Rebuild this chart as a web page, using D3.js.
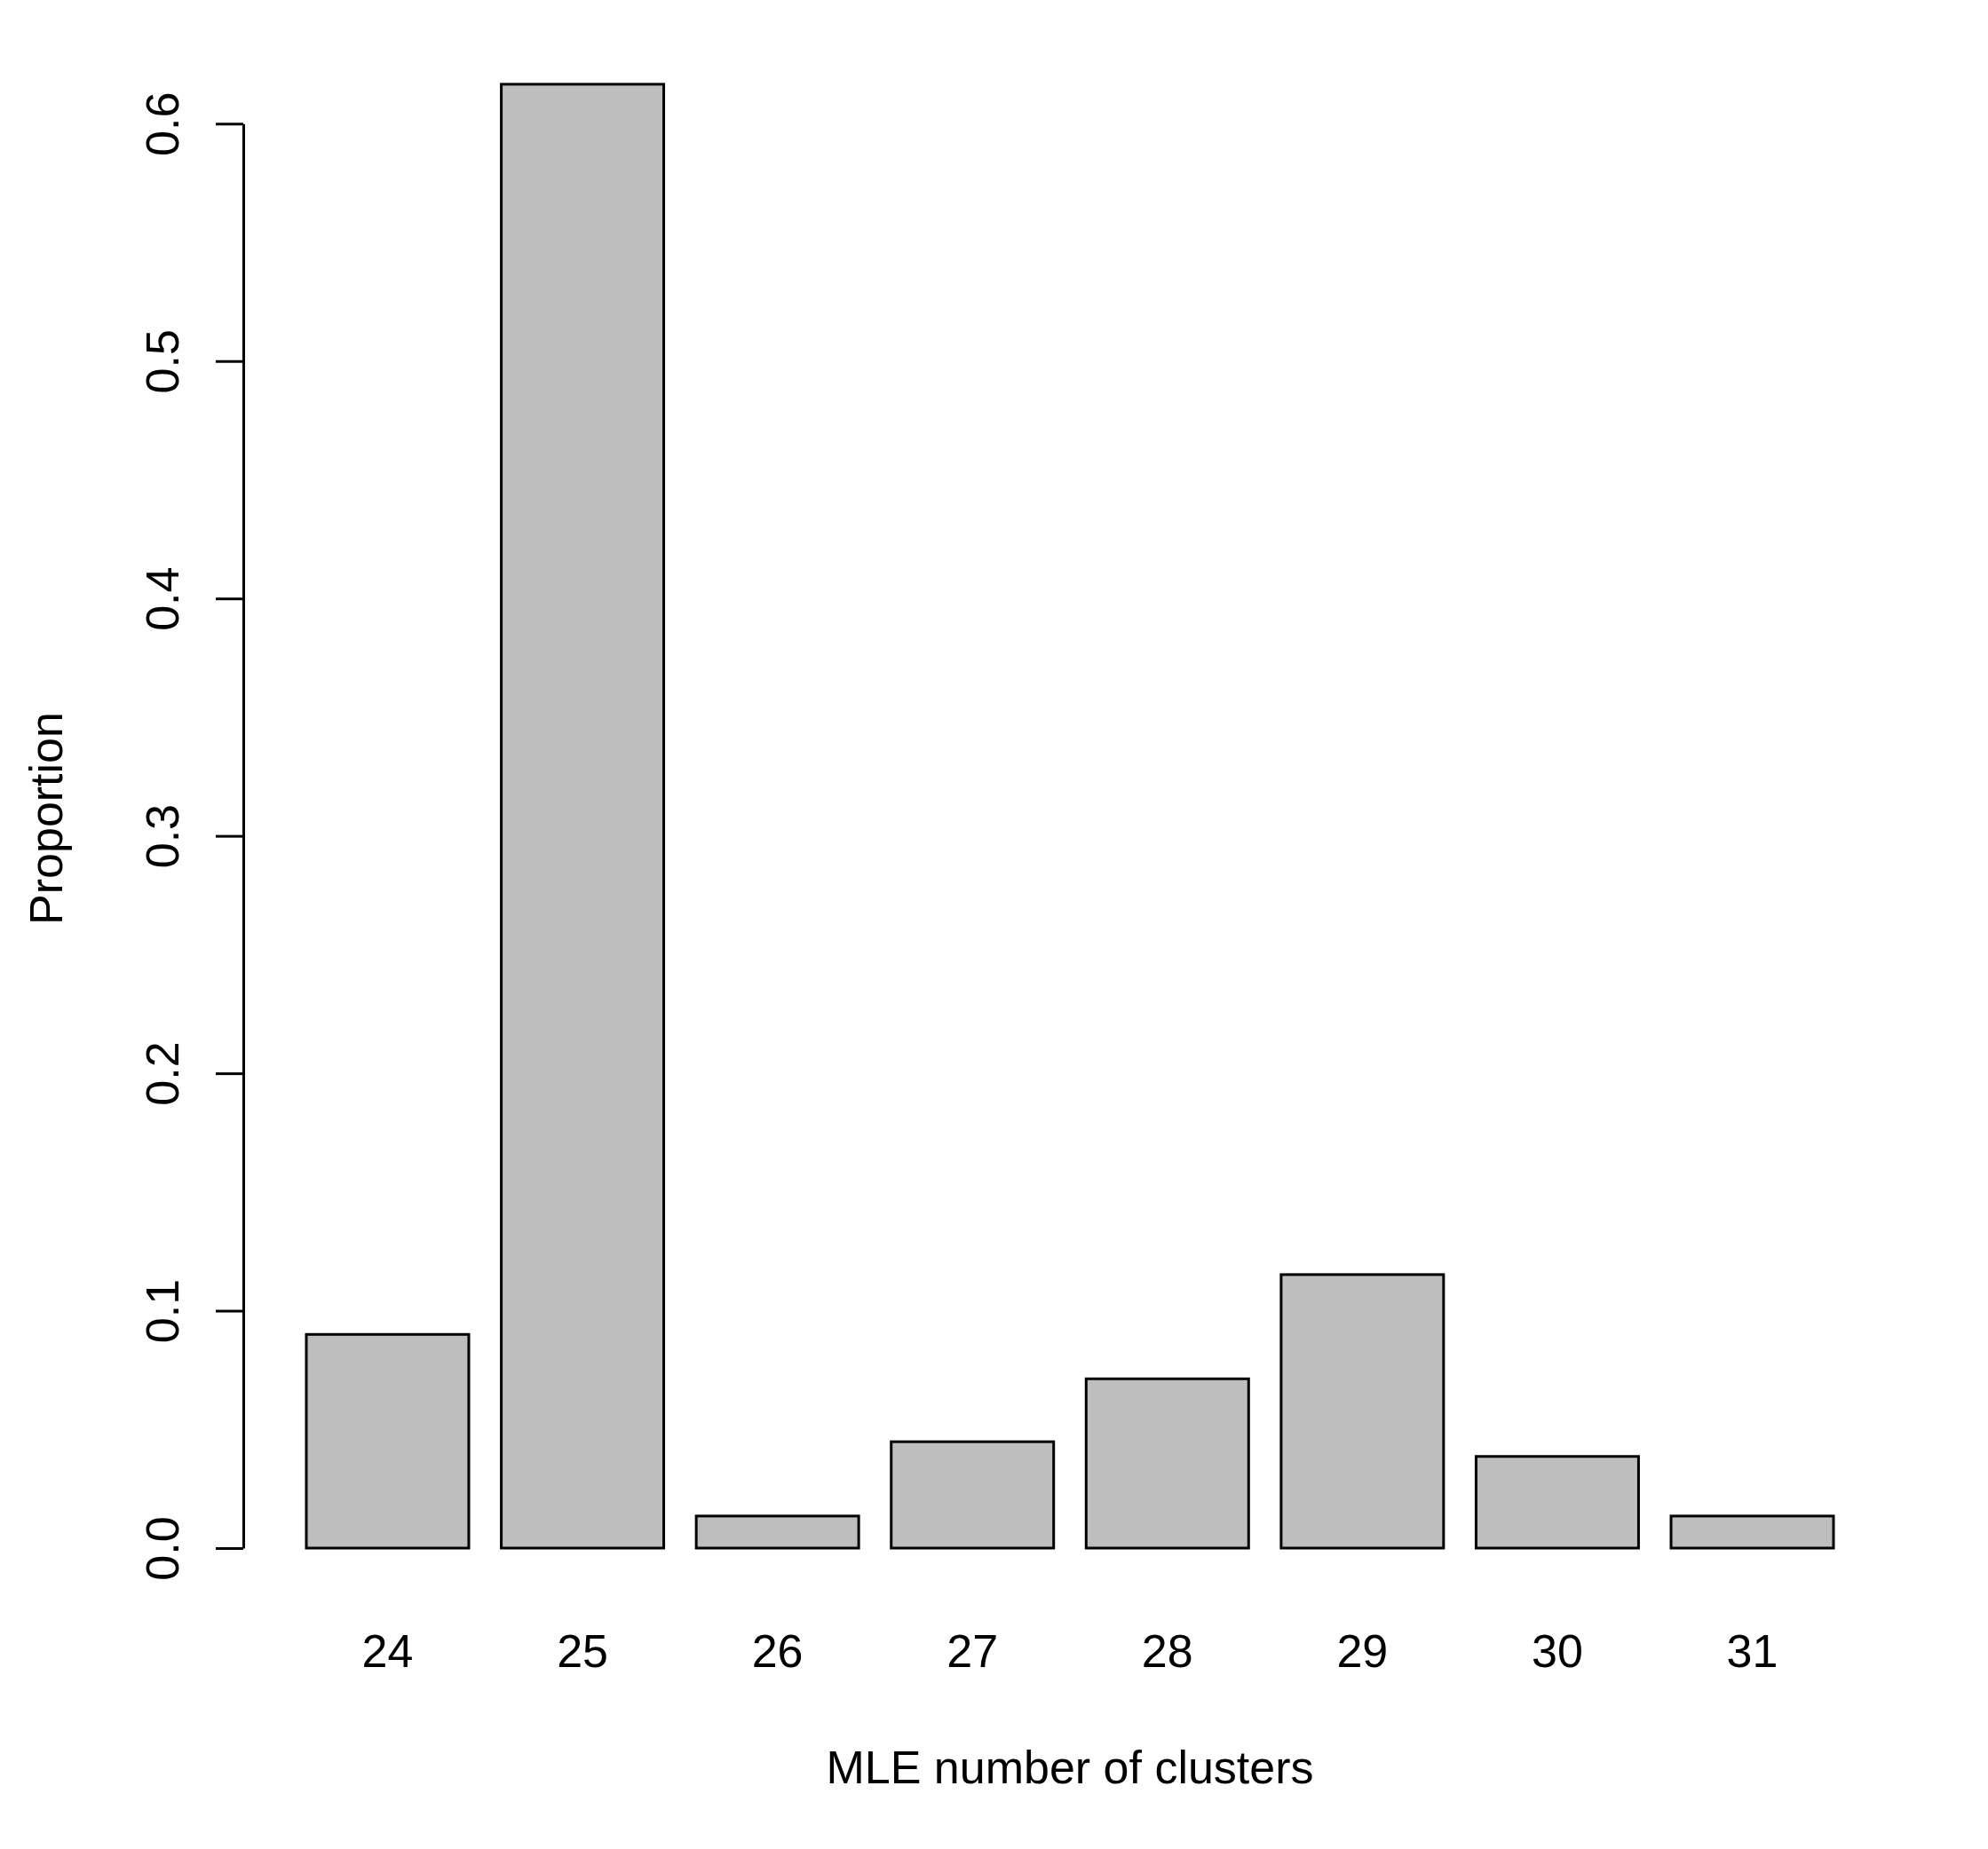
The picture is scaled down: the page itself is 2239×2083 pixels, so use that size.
<!DOCTYPE html>
<html>
<head>
<meta charset="utf-8">
<script src="https://cdn.jsdelivr.net/npm/d3@7"></script>
<style>
  body { margin: 0; background: #fff; }
  text { font-family: "Liberation Sans", Arial, sans-serif; }
</style>
</head>
<body>
<div id="chart"></div>
<script>
// datos
const clusters = ["24", "25", "26", "27", "28", "29", "30", "31"];
const proportions = [0.09, 0.6166, 0.0135, 0.0448, 0.0713, 0.1152, 0.0386, 0.0135];
const yTicks = [0, 0.1, 0.2, 0.3, 0.4, 0.5, 0.6];

const width = 2239, height = 2083;
const margin = { top: 139.3, right: 174, bottom: 339, left: 345 };

const svg = d3.select("#chart").append("svg")
  .attr("width", width)
  .attr("height", height);

svg.append("rect")
  .attr("width", width)
  .attr("height", height)
  .attr("fill", "#fff");

// escalas
const x = d3.scaleBand()
  .domain(clusters)
  .range([margin.left, width - margin.right])
  .paddingInner(1 / 6)
  .paddingOuter(0);

const y = d3.scaleLinear()
  .domain([0, 0.6])
  .range([height - margin.bottom, margin.top]);

// barras
svg.append("g")
  .selectAll("rect")
  .data(clusters.map((c, i) => ({ c, v: proportions[i] })))
  .join("rect")
  .attr("x", d => x(d.c))
  .attr("y", d => y(d.v))
  .attr("width", x.bandwidth())
  .attr("height", d => y(0) - y(d.v))
  .attr("fill", "#bebebe")
  .attr("stroke", "#000")
  .attr("stroke-width", 3);

// eje Y
const yAxis = svg.append("g")
  .attr("transform", "translate(274,0)")
  .call(d3.axisLeft(y).tickValues(yTicks).tickFormat(d3.format(".1f"))
    .tickSize(31).tickSizeOuter(0).tickPadding(0));

yAxis.select(".domain").attr("stroke", "#000").attr("stroke-width", 3);
yAxis.selectAll(".tick line").attr("stroke", "#000").attr("stroke-width", 3);
yAxis.selectAll(".tick text")
  .attr("x", null)
  .attr("dy", null)
  .attr("transform", "translate(-73,0) rotate(-90)")
  .attr("text-anchor", "middle")
  .attr("fill", "#000")
  .style("font-size", "52px")
  .style("font-family", "Liberation Sans, Arial, sans-serif");

// etiquetas X (sin eje, como barplot de R)
svg.append("g")
  .selectAll("text")
  .data(clusters)
  .join("text")
  .attr("x", d => x(d) + x.bandwidth() / 2)
  .attr("y", 1878)
  .attr("text-anchor", "middle")
  .style("font-size", "52px")
  .text(d => d);

// títulos de ejes
svg.append("text")
  .attr("x", (x.range()[0] + x.range()[1]) / 2)
  .attr("y", 2009)
  .attr("text-anchor", "middle")
  .style("font-size", "52px")
  .text("MLE number of clusters");

svg.append("text")
  .attr("transform", "translate(70,922) rotate(-90)")
  .attr("text-anchor", "middle")
  .style("font-size", "52px")
  .text("Proportion");
</script>
</body>
</html>
